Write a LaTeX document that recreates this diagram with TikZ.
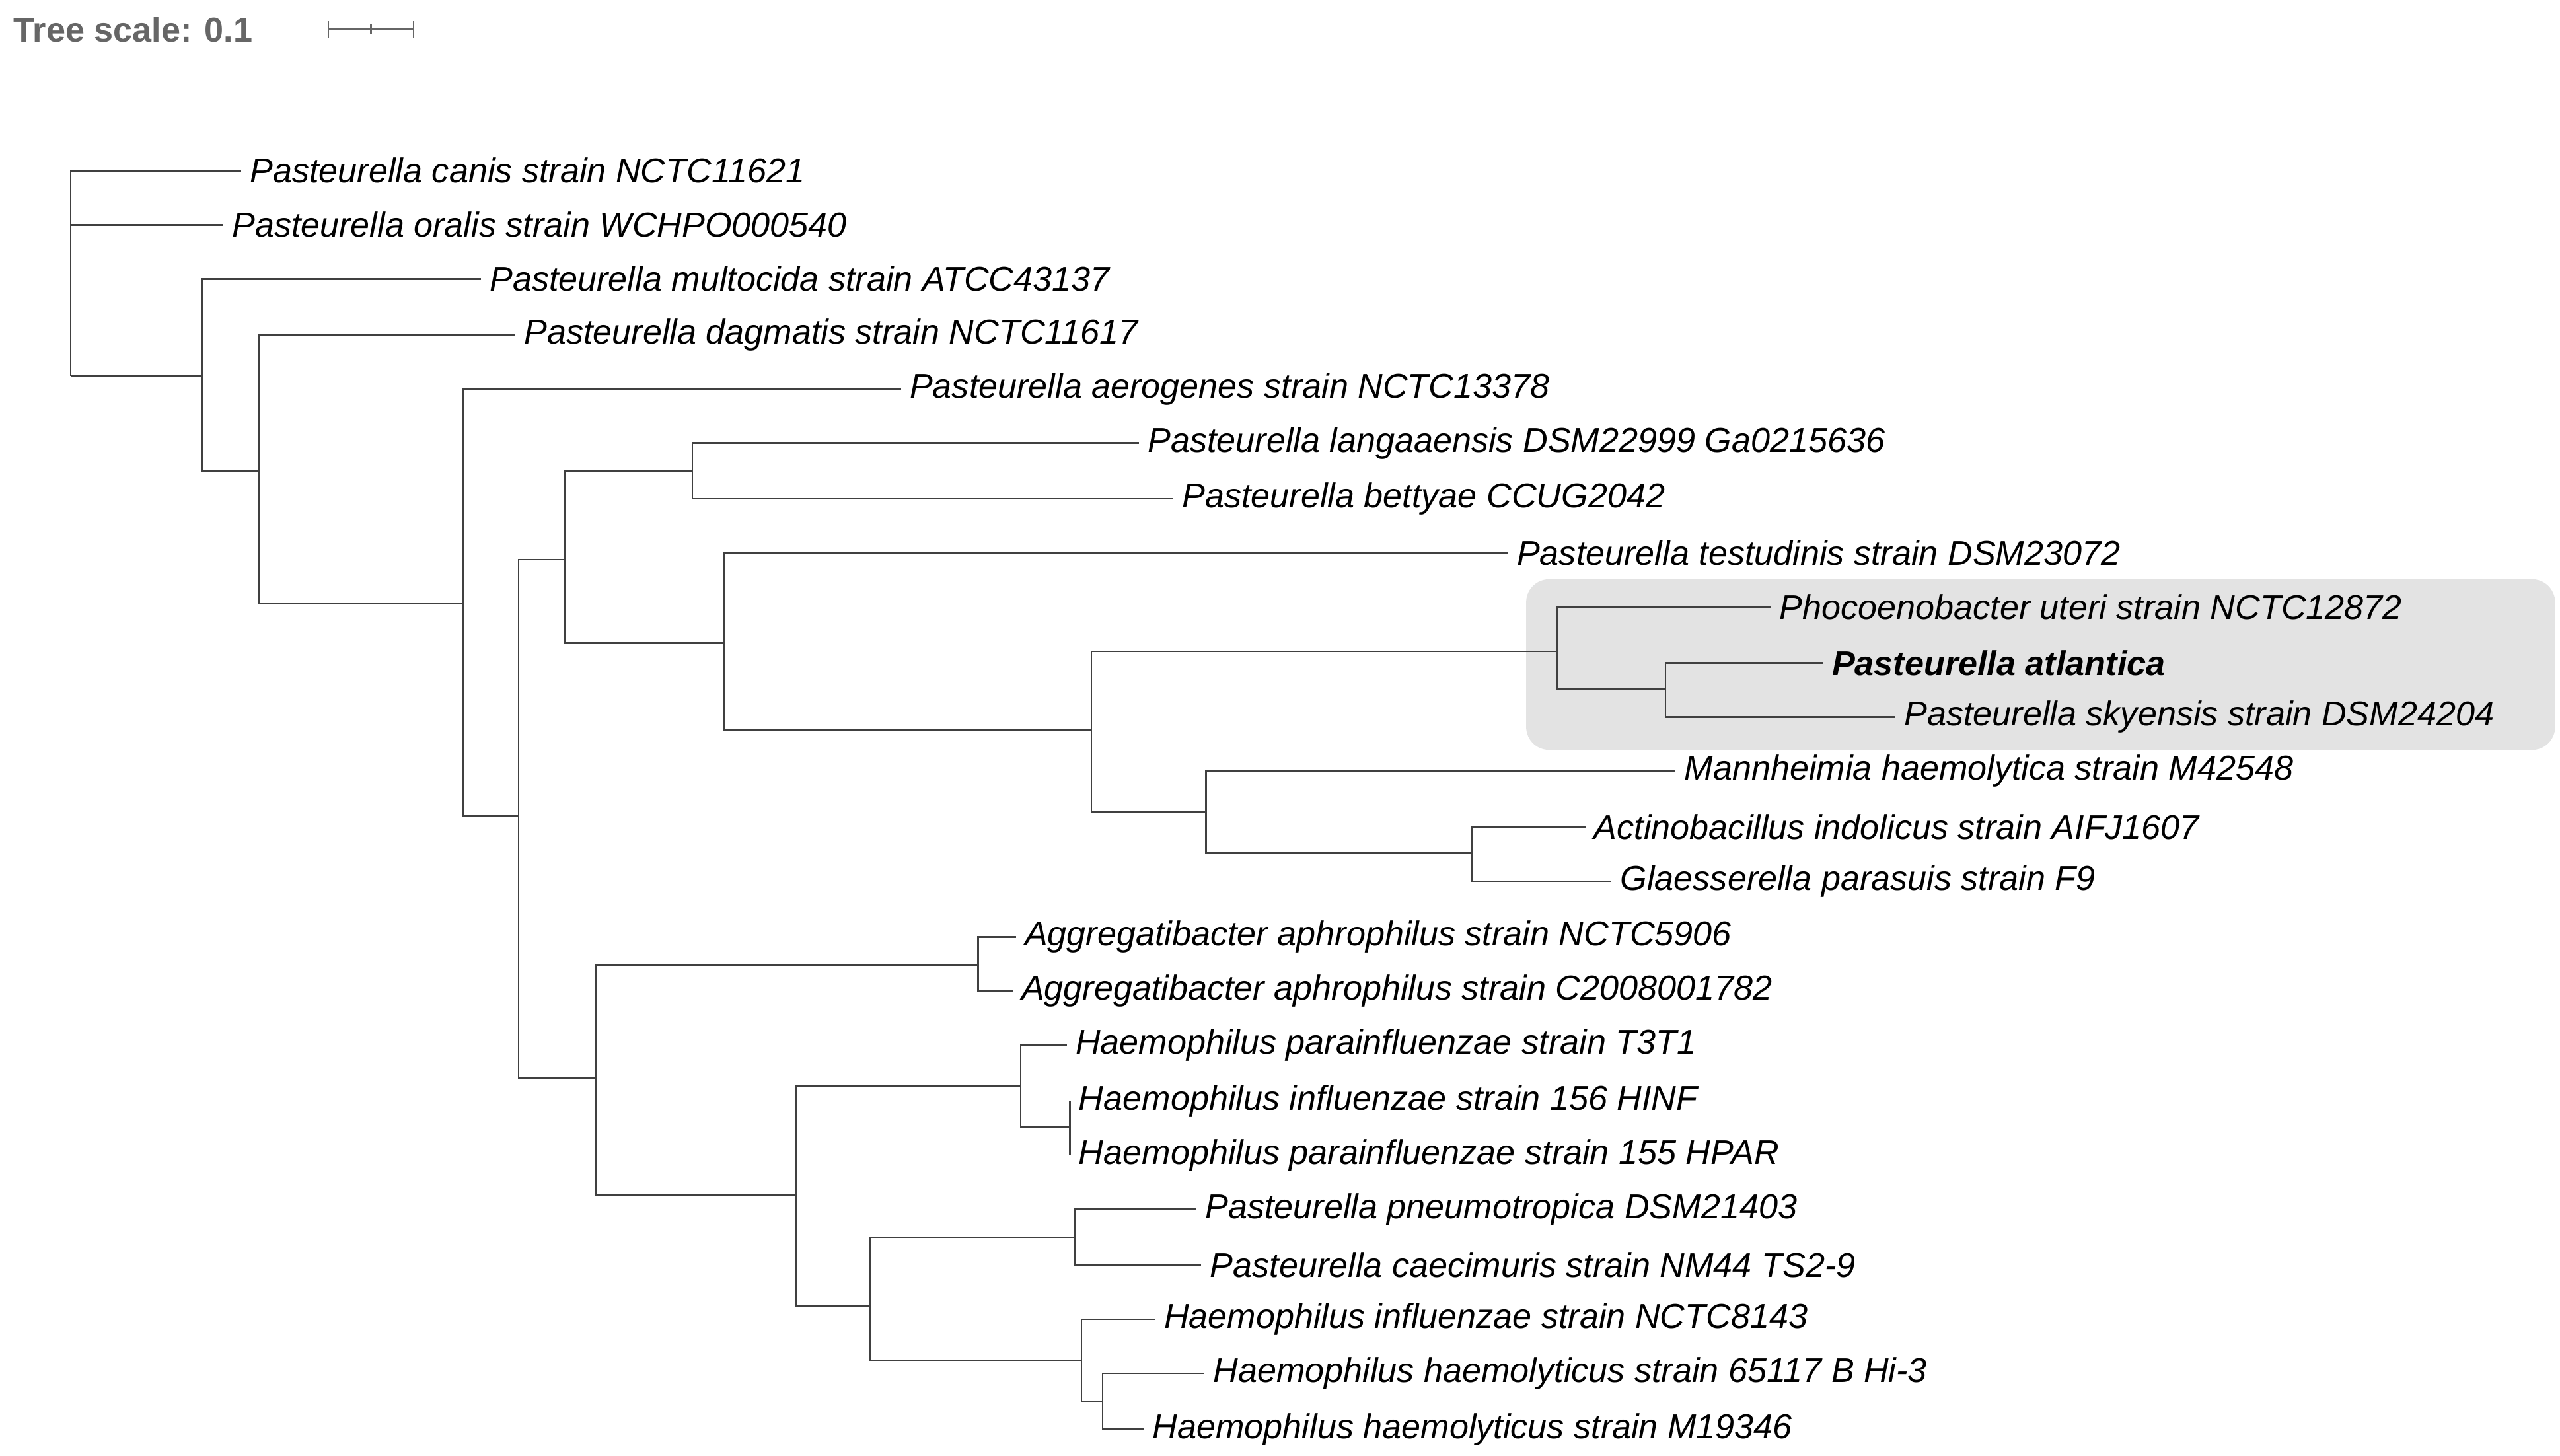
\documentclass[tikz,border=0pt]{standalone}
\usepackage{fontspec}
\setmainfont{Liberation Sans}
\begin{document}
\begin{tikzpicture}[x=0.5pt,y=-0.5pt,
 leaf/.style={anchor=west,inner xsep=2.5pt,inner ysep=0pt,font=\fontsize{10.5}{12}\selectfont\itshape},
 br/.style={draw=black!75,line width=0.5pt}]
\useasboundingbox (0,0) rectangle (1560,887);
\fill[black!11,rounded corners=7pt] (930,353) rectangle (1557,457);
\node[anchor=west,inner sep=0pt,text=black!60,font=\fontsize{10.5}{12}\selectfont\bfseries] (ts) at (8,18) {Tree scale: 0.1};
\coordinate (s1) at (200,18); \coordinate (s2) at (252,18);
\draw[br,black!60] (s1) -- (s2) (200,13)--(200,23) (226,15)--(226,21) (252,13)--(252,23);
% internal coordinates
\coordinate (r) at (43,229);
\coordinate (a) at (123,229); \coordinate (b) at (158,287); \coordinate (c) at (282,368);
\coordinate (d) at (316,497); \coordinate (e) at (344,341); \coordinate (f) at (422,287);
\coordinate (g) at (441,392); \coordinate (h) at (665,445); \coordinate (i) at (949,397);
\coordinate (j) at (1015,420); \coordinate (k) at (735,495); \coordinate (l) at (897,520);
\coordinate (m) at (363,657); \coordinate (n) at (596,588); \coordinate (o) at (485,728);
\coordinate (p) at (622,662); \coordinate (q) at (652,687); \coordinate (s) at (530,796);
\coordinate (t) at (655,754); \coordinate (u) at (659,829); \coordinate (v) at (672,854);
% leaves
\node[leaf] (L1) at (147,104) {Pasteurella canis strain NCTC11621};
\node[leaf] (L2) at (136,137) {Pasteurella oralis strain WCHPO000540};
\node[leaf] (L3) at (293,170) {Pasteurella multocida strain ATCC43137};
\node[leaf] (L4) at (314,204) {Pasteurella dagmatis strain NCTC11617};
\node[leaf] (L5) at (549,237) {Pasteurella aerogenes strain NCTC13378};
\node[leaf] (L6) at (694,270) {Pasteurella langaaensis DSM22999 Ga0215636};
\node[leaf] (L7) at (715,304) {Pasteurella bettyae CCUG2042};
\node[leaf] (L8) at (919,337) {Pasteurella testudinis strain DSM23072};
\node[leaf] (L9) at (1079,370) {Phocoenobacter uteri strain NCTC12872};
\node[leaf,font=\fontsize{10.5}{12}\selectfont\bfseries\itshape] (L10) at (1111,404) {Pasteurella atlantica};
\node[leaf] (L11) at (1155,437) {Pasteurella skyensis strain DSM24204};
\node[leaf] (L12) at (1021,470) {Mannheimia haemolytica strain M42548};
\node[leaf] (L13) at (966,504) {Actinobacillus indolicus strain AIFJ1607};
\node[leaf] (L14) at (982,537) {Glaesserella parasuis strain F9};
\node[leaf] (L15) at (619,571) {Aggregatibacter aphrophilus strain NCTC5906};
\node[leaf] (L16) at (617,604) {Aggregatibacter aphrophilus strain C2008001782};
\node[leaf] (L17) at (650,637) {Haemophilus parainfluenzae strain T3T1};
\node[leaf] (L18) at (652,671) {Haemophilus influenzae strain 156 HINF};
\node[leaf] (L19) at (652,704) {Haemophilus parainfluenzae strain 155 HPAR};
\node[leaf] (L20) at (729,737) {Pasteurella pneumotropica DSM21403};
\node[leaf] (L21) at (732,771) {Pasteurella caecimuris strain NM44 TS2-9};
\node[leaf] (L22) at (704,804) {Haemophilus influenzae strain NCTC8143};
\node[leaf] (L23) at (734,837) {Haemophilus haemolyticus strain 65117 B Hi-3};
\node[leaf] (L24) at (697,871) {Haemophilus haemolyticus strain M19346};
% branches
\draw[br] (r) |- (L1.west); \draw[br] (r) |- (L2.west); \draw[br] (r) -- (a);
\draw[br] (a) |- (L3.west); \draw[br] (a) |- (b);
\draw[br] (b) |- (L4.west); \draw[br] (b) |- (c);
\draw[br] (c) |- (L5.west); \draw[br] (c) |- (d);
\draw[br] (d) |- (e); \draw[br] (d) |- (m);
\draw[br] (e) |- (f); \draw[br] (e) |- (g);
\draw[br] (f) |- (L6.west); \draw[br] (f) |- (L7.west);
\draw[br] (g) |- (L8.west); \draw[br] (g) |- (h);
\draw[br] (h) |- (i); \draw[br] (h) |- (k);
\draw[br] (i) |- (L9.west); \draw[br] (i) |- (j);
\draw[br] (j) |- (L10.west); \draw[br] (j) |- (L11.west);
\draw[br] (k) |- (L12.west); \draw[br] (k) |- (l);
\draw[br] (l) |- (L13.west); \draw[br] (l) |- (L14.west);
\draw[br] (m) |- (n); \draw[br] (m) |- (o);
\draw[br] (n) |- (L15.west); \draw[br] (n) |- (L16.west);
\draw[br] (o) |- (p); \draw[br] (o) |- (s);
\draw[br] (p) |- (L17.west); \draw[br] (p) |- (q);
\draw[br] (q) |- (L18.west); \draw[br] (q) |- (L19.west);
\draw[br] (s) |- (t); \draw[br] (s) |- (u);
\draw[br] (t) |- (L20.west); \draw[br] (t) |- (L21.west);
\draw[br] (u) |- (L22.west); \draw[br] (u) |- (v);
\draw[br] (v) |- (L23.west); \draw[br] (v) |- (L24.west);
\end{tikzpicture}
\end{document}
